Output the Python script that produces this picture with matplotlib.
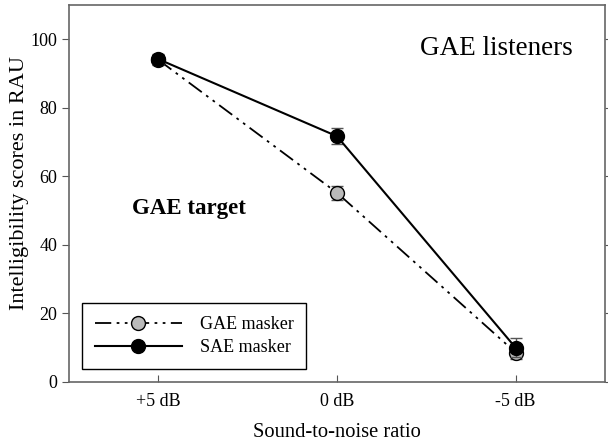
import matplotlib
matplotlib.use("Agg")
import matplotlib.pyplot as plt
from matplotlib.lines import Line2D

plt.rcParams['font.family'] = ['Liberation Serif', 'DejaVu Serif']

categories = ['+5 dB', '0 dB', '-5 dB']
gae_masker = [94.0, 55.2, 8.6]
gae_err = [1.5, 2.1, 2.0]
sae_masker = [94.2, 71.7, 10.0]
sae_err = [1.5, 2.3, 2.8]
yticks = [0, 20, 40, 60, 80, 100]

fig = plt.figure(figsize=(6.08, 4.45), dpi=100)
ax = fig.add_axes([0.1135, 0.1416, 0.8815, 0.8472])
x = list(range(len(categories)))

ax.errorbar(x, gae_masker, yerr=gae_err, color='black', lw=1.3,
            dashes=(9, 3, 1.5, 3, 1.5, 3), marker='o', markersize=10,
            markerfacecolor='#bbbbbb', markeredgecolor='black', markeredgewidth=1.0,
            ecolor='#555555', elinewidth=1.0, capsize=4, capthick=1.0, zorder=3)
ax.errorbar(x, sae_masker, yerr=sae_err, color='black', lw=1.5, ls='-',
            marker='o', markersize=10, markerfacecolor='black',
            markeredgecolor='black', ecolor='#555555', elinewidth=1.0,
            capsize=4, capthick=1.0, zorder=4)

ax.set_xlim(-0.5, 2.5)
ax.set_ylim(0, 110)
ax.set_xticks(x)
ax.set_xticklabels(categories, fontsize=13)
ax.set_yticks(yticks)
ax.tick_params(axis='y', direction='out', left=True, right=True, labelsize=13,
               length=5, color='#555555')
ax.tick_params(axis='x', direction='in', length=5, color='#555555', pad=8)
for s in ax.spines.values():
    s.set_color('#666666')
    s.set_linewidth(1.2)

ax.set_xlabel('Sound-to-noise ratio', fontsize=14.8, labelpad=9)
ax.set_ylabel('Intelligibility scores in RAU', fontsize=16)
ax.yaxis.set_label_coords(-0.075, 0.528)

ax.text(2.32, 97.2, 'GAE listeners', fontsize=19.5, ha='right', va='center')
ax.text(-0.15, 50.5, 'GAE target', fontsize=16.5, fontweight='bold', ha='left', va='center')

h1 = Line2D([], [], color='black', lw=1.3, dashes=(9, 3, 1.5, 3, 1.5, 3), marker='o',
            markersize=10, markerfacecolor='#bbbbbb', markeredgecolor='black')
h2 = Line2D([], [], color='black', lw=1.5, marker='o', markersize=10,
            markerfacecolor='black', markeredgecolor='black')
leg = ax.legend([h1, h2], ['GAE masker', 'SAE masker'], loc='lower left',
                bbox_to_anchor=(0.025, 0.035), fontsize=13, handlelength=4.8,
                handletextpad=1.0, borderpad=0.7, labelspacing=0.35,
                fancybox=False, edgecolor='black', framealpha=1, borderaxespad=0)
leg.get_frame().set_linewidth(1.0)

fig.savefig('out.png', dpi=100)
